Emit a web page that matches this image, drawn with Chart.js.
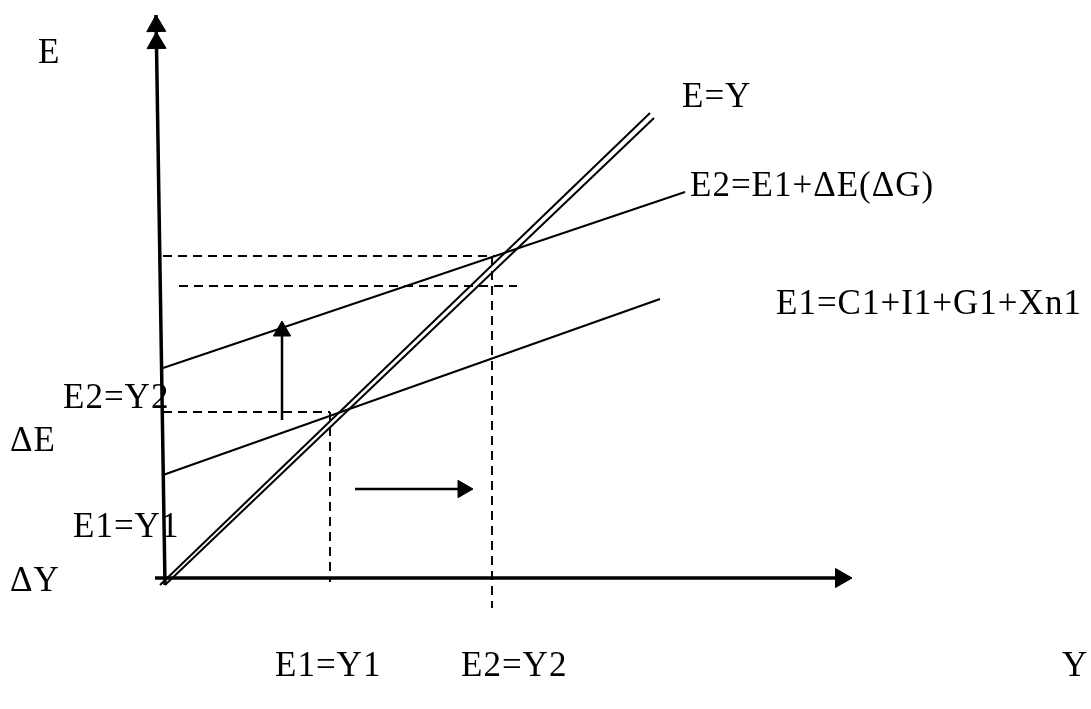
<!DOCTYPE html>
<html>
<head>
<meta charset="utf-8">
<script src="https://cdn.jsdelivr.net/npm/chart.js@4"></script>
<style>
  html, body { margin: 0; padding: 0; background: #fff; }
  #wrap { width: 1091px; height: 709px; position: relative; }
</style>
</head>
<body>
<div id="wrap"><canvas id="grafica"></canvas></div>
<script>
  // origen del diagrama = donde se cruzan los ejes
  const ejeE = [{x: -7, y: 565}, {x: 2, y: -5}];
  const ejeY = [{x: -8, y: 2}, {x: 679, y: 2}];
  const flechasE = [{x: -6.8, y: 554}, {x: -6.5, y: 537}];
  const flechaY = [{x: 678, y: 2}];

  // E=Y se dibuja doble
  const lineaEY_a = [{x: -3, y: -5}, {x: 487, y: 467}];
  const lineaEY_b = [{x: 2, y: -5}, {x: 491, y: 462}];
  const lineaE1 = [{x: 0, y: 105}, {x: 497, y: 281}];
  const lineaE2 = [{x: 0, y: 212}, {x: 522, y: 388}];

  // guias punteadas
  const guiaE2 = [{x: 0, y: 324}, {x: 332, y: 324}];
  const guiaE2b = [{x: 16, y: 294}, {x: 354, y: 294}];
  const guiaE1 = [{x: 0, y: 168}, {x: 167, y: 168}];
  const guiaY1 = [{x: 167, y: 168}, {x: 167, y: -2}];
  const guiaY2 = [{x: 329, y: 324}, {x: 329, y: -28}];

  // desplazamientos
  const subeE = [{x: 119, y: 160}, {x: 119, y: 250}];
  const puntaSubeE = [{x: 119, y: 249}];
  const avanzaY = [{x: 192, y: 91}, {x: 302, y: 91}];
  const puntaAvanzaY = [{x: 300, y: 91}];

  const textos = ['E', 'E=Y', 'E2=E1+\u0394E(\u0394G)', 'E1=C1+I1+G1+Xn1', 'E2=Y2', '\u0394E',
    'E1=Y1', '\u0394Y', 'E1=Y1', 'E2=Y2', 'Y'];

  // donde va cada texto (izquierda, linea base) en pixeles
  const posTextos = [[38, 63], [682, 107], [690, 196], [776, 314], [63, 408], [10, 451],
    [73, 537], [10, 591], [275, 676], [461, 676], [1062, 676]];

  function linea(datos, ancho, punteada) {
    return {
      data: datos,
      showLine: true,
      borderColor: '#000',
      borderWidth: ancho,
      borderDash: punteada ? [9, 6] : [],
      pointRadius: 0,
      borderCapStyle: 'butt'
    };
  }

  function punta(datos, radio, giro) {
    return {
      data: datos,
      showLine: false,
      pointStyle: 'triangle',
      pointRadius: radio,
      pointRotation: giro,
      backgroundColor: '#000',
      borderColor: '#000',
      borderWidth: 1
    };
  }

  const etiquetas = {
    id: 'etiquetas',
    afterDraw(chart) {
      const ctx = chart.ctx;
      ctx.save();
      ctx.fillStyle = '#000';
      ctx.font = '35px "Liberation Serif", "Times New Roman", serif';
      ctx.letterSpacing = '1px';
      ctx.textBaseline = 'alphabetic';
      ctx.textAlign = 'left';
      textos.forEach((t, i) => {
        ctx.fillText(t, posTextos[i][0], posTextos[i][1]);
      });
      ctx.restore();
    }
  };

  const config = {
    type: 'scatter',
    data: {
      datasets: [
        linea(ejeE, 3.5, false),
        linea(ejeY, 3.5, false),
        punta(flechasE, 11, -1),
        punta(flechaY, 11, 90),
        linea(lineaEY_a, 2, false),
        linea(lineaEY_b, 2, false),
        linea(lineaE1, 2, false),
        linea(lineaE2, 2, false),
        linea(guiaE2, 1.9, true),
        linea(guiaE2b, 1.9, true),
        linea(guiaE1, 1.9, true),
        linea(guiaY1, 1.9, true),
        linea(guiaY2, 1.9, true),
        linea(subeE, 2.5, false),
        punta(puntaSubeE, 10, 0),
        linea(avanzaY, 2.5, false),
        punta(puntaAvanzaY, 10, 90)
      ]
    },
    options: {
      responsive: true,
      maintainAspectRatio: false,
      animation: false,
      layout: { padding: 0, autoPadding: false },
      plugins: { legend: { display: false }, tooltip: { enabled: false } },
      scales: {
        x: { type: 'linear', min: -163, max: 928, display: false },
        y: { type: 'linear', min: -129, max: 580, display: false }
      }
    },
    plugins: [etiquetas]
  };

  const miGrafica = new Chart(document.getElementById('grafica'), config);
</script>
</body>
</html>
